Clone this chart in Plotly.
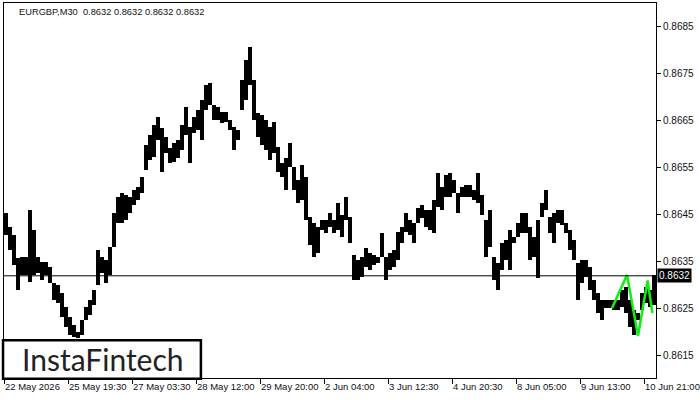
import plotly.graph_objects as go

symbol_title = "EURGBP,M30  0.8632 0.8632 0.8632 0.8632"
last_price = 0.8632

bar_high = [0.86454, 0.86424, 0.86407, 0.86358, 0.86360, 0.86360, 0.86460, 0.86417, 0.86360, 0.86349,
            0.86349, 0.86339, 0.86305, 0.86300, 0.86283, 0.86254, 0.86232, 0.86215, 0.86200, 0.86226,
            0.86254, 0.86268, 0.86290, 0.86375, 0.86360, 0.86354, 0.86381, 0.86454, 0.86488, 0.86496,
            0.86492, 0.86488, 0.86503, 0.86509, 0.86530, 0.86598, 0.86620, 0.86641, 0.86658, 0.86634,
            0.86615, 0.86592, 0.86603, 0.86609, 0.86641, 0.86679, 0.86637, 0.86658, 0.86673, 0.86694,
            0.86726, 0.86730, 0.86683, 0.86679, 0.86668, 0.86668, 0.86651, 0.86637, 0.86630, 0.86737,
            0.86779, 0.86807, 0.86737, 0.86666, 0.86662, 0.86651, 0.86637, 0.86647, 0.86594, 0.86560,
            0.86571, 0.86603, 0.86551, 0.86524, 0.86556, 0.86530, 0.86445, 0.86432, 0.86424, 0.86439,
            0.86439, 0.86454, 0.86439, 0.86475, 0.86449, 0.86488, 0.86445, 0.86364, 0.86354, 0.86360,
            0.86379, 0.86368, 0.86364, 0.86360, 0.86411, 0.86360, 0.86368, 0.86375, 0.86413, 0.86424,
            0.86454, 0.86439, 0.86432, 0.86464, 0.86471, 0.86460, 0.86460, 0.86481, 0.86539, 0.86509,
            0.86535, 0.86539, 0.86524, 0.86496, 0.86509, 0.86513, 0.86513, 0.86503, 0.86539, 0.86492,
            0.86439, 0.86460, 0.86360, 0.86347, 0.86390, 0.86396, 0.86417, 0.86403, 0.86432, 0.86454,
            0.86454, 0.86424, 0.86403, 0.86439, 0.86475, 0.86503, 0.86445, 0.86454, 0.86460, 0.86460,
            0.86432, 0.86417, 0.86396, 0.86347, 0.86354, 0.86354, 0.86339, 0.86311, 0.86283, 0.86268,
            0.86268, 0.86268, 0.86268, 0.86268, 0.86290, 0.86296, 0.86268, 0.86247, 0.86241, 0.86283,
            0.86296, 0.86290, 0.86322]

bar_low = [0.86407, 0.86375, 0.86343, 0.86290, 0.86322, 0.86322, 0.86307, 0.86322, 0.86326, 0.86311,
           0.86322, 0.86305, 0.86268, 0.86262, 0.86232, 0.86211, 0.86194, 0.86190, 0.86188, 0.86194,
           0.86226, 0.86237, 0.86258, 0.86300, 0.86326, 0.86305, 0.86322, 0.86381, 0.86432, 0.86432,
           0.86439, 0.86454, 0.86471, 0.86481, 0.86496, 0.86545, 0.86566, 0.86573, 0.86609, 0.86541,
           0.86581, 0.86560, 0.86562, 0.86571, 0.86588, 0.86620, 0.86560, 0.86624, 0.86630, 0.86609,
           0.86673, 0.86683, 0.86651, 0.86651, 0.86645, 0.86647, 0.86630, 0.86588, 0.86609, 0.86673,
           0.86694, 0.86726, 0.86651, 0.86615, 0.86598, 0.86588, 0.86566, 0.86581, 0.86541, 0.86530,
           0.86503, 0.86551, 0.86503, 0.86475, 0.86481, 0.86439, 0.86386, 0.86360, 0.86368, 0.86417,
           0.86411, 0.86424, 0.86411, 0.86417, 0.86403, 0.86439, 0.86390, 0.86311, 0.86311, 0.86317,
           0.86339, 0.86332, 0.86343, 0.86347, 0.86360, 0.86311, 0.86332, 0.86339, 0.86354, 0.86390,
           0.86413, 0.86407, 0.86390, 0.86432, 0.86443, 0.86424, 0.86417, 0.86411, 0.86466, 0.86460,
           0.86488, 0.86488, 0.86496, 0.86454, 0.86488, 0.86488, 0.86488, 0.86481, 0.86475, 0.86449,
           0.86360, 0.86381, 0.86311, 0.86290, 0.86332, 0.86354, 0.86332, 0.86390, 0.86403, 0.86411,
           0.86411, 0.86354, 0.86360, 0.86315, 0.86445, 0.86460, 0.86411, 0.86390, 0.86432, 0.86428,
           0.86411, 0.86375, 0.86354, 0.86268, 0.86305, 0.86317, 0.86290, 0.86268, 0.86241, 0.86226,
           0.86251, 0.86251, 0.86247, 0.86247, 0.86254, 0.86241, 0.86211, 0.86194, 0.86226, 0.86247,
           0.86262, 0.86254, 0.86258]

pattern_bar = [151.5, 155.25, 158.0, 160.4, 161.6]
pattern_price = [0.86251, 0.86322, 0.86192, 0.86310, 0.86241]

time_labels = ["22 May 2026", "25 May 19:30", "27 May 03:30", "28 May 12:00", "29 May 20:00",
               "2 Jun 04:00", "3 Jun 12:30", "4 Jun 20:30", "8 Jun 05:00", "9 Jun 13:00", "10 Jun 21:00"]
price_ticks = [0.8615, 0.8625, 0.8635, 0.8645, 0.8655, 0.8665, 0.8675, 0.8685]

n = len(bar_high)
idx = list(range(n))
time_pos = [-0.5 + 16 * k for k in range(len(time_labels))]

fig = go.Figure()
fig.add_trace(go.Bar(
    x=idx, y=[h - l for h, l in zip(bar_high, bar_low)], base=bar_low,
    width=0.9, marker=dict(color="black", line=dict(width=0)),
    hoverinfo="skip", showlegend=False))
fig.add_trace(go.Scatter(
    x=pattern_bar, y=pattern_price, mode="lines",
    line=dict(color="#11ee11", width=2.5), hoverinfo="skip", showlegend=False))

fig.add_shape(type="line", xref="paper", x0=0, x1=1, yref="y", y0=last_price, y1=last_price,
              line=dict(color="black", width=1), layer="above")

# logo box
fig.add_shape(type="rect", xref="paper", yref="paper", x0=-0.0015, x1=0.302, y0=-0.002, y1=0.101,
              fillcolor="white", line=dict(color="black", width=2.5), layer="above")
fig.add_annotation(xref="paper", yref="paper", x=0.152, y=0.05, text="InstaFintech",
                   showarrow=False, font=dict(family="Lato", size=30, color="#222222"),
                   xanchor="center", yanchor="middle")

fig.add_annotation(xref="paper", yref="paper", x=0.02, y=0.995, text=symbol_title,
                   showarrow=False, font=dict(family="Liberation Sans", size=9.3, color="#111111"),
                   xanchor="left", yanchor="top")

fig.add_annotation(xref="paper", yref="y", x=1.0, y=last_price, text=f"{last_price:.4f}",
                   showarrow=False, font=dict(family="Liberation Sans", size=10, color="white"),
                   bgcolor="black", xanchor="left", yanchor="middle", borderpad=1, xshift=1)

fig.update_layout(
    width=700, height=400,
    margin=dict(l=4, r=44, t=3, b=22, autoexpand=False),
    paper_bgcolor="white", plot_bgcolor="white",
    bargap=0, showlegend=False,
    font=dict(family="Liberation Sans", size=10, color="#111111"),
)
fig.update_xaxes(range=[-0.5, 162.5], showgrid=False, zeroline=False, automargin=False,
                 showline=True, linecolor="black", linewidth=1, mirror=True,
                 tickmode="array", tickvals=time_pos, ticktext=time_labels,
                 ticks="outside", ticklen=5, tickcolor="black", tickangle=0,
                 ticklabelposition="outside right", ticklabeloverflow="allow",
                 tickfont=dict(family="Liberation Sans", size=9.5, color="#111111"))
fig.update_yaxes(range=[0.861026, 0.869004], side="right", showgrid=False, zeroline=False,
                 automargin=False,
                 showline=True, linecolor="black", linewidth=1, mirror=True,
                 tickmode="array", tickvals=price_ticks, ticktext=[f"{v:.4f}" for v in price_ticks],
                 ticks="outside", ticklen=4, tickcolor="black", ticklabeloverflow="allow",
                 tickfont=dict(family="Liberation Sans", size=10, color="#111111"))

fig.write_html("out.html", config={"displayModeBar": False},
               post_script="document.body.style.margin='0';")
